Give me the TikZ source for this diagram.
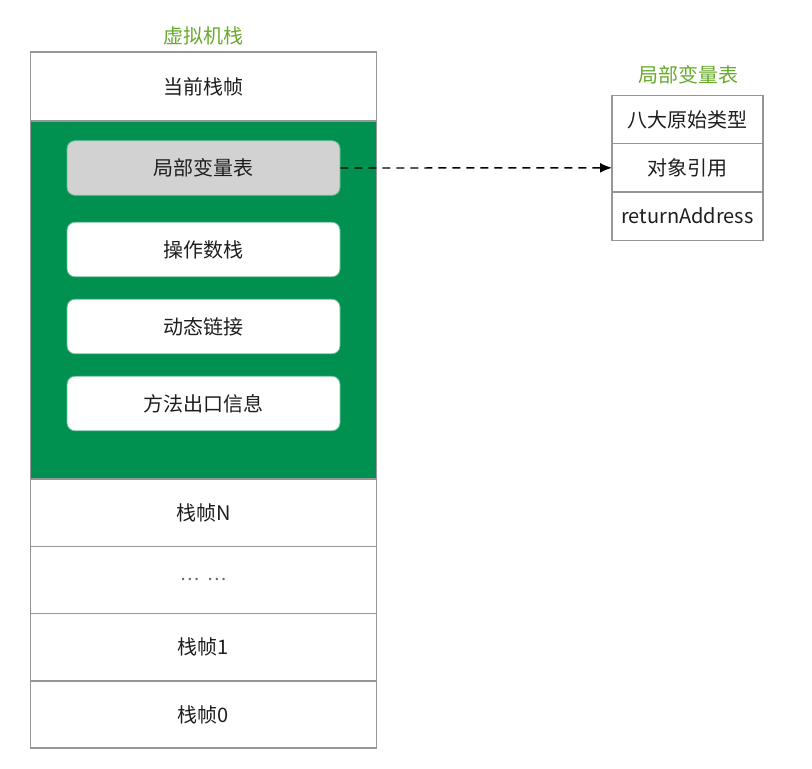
\documentclass[tikz,border=0pt]{standalone}
\usepackage{fontspec}
\setmainfont{Noto Sans CJK SC}
\usepackage{xcolor}
\usetikzlibrary{arrows.meta,positioning}
\definecolor{frmgreen}{RGB}{0,145,80}
\definecolor{ttlgreen}{RGB}{104,170,44}
\definecolor{edge}{RGB}{150,150,150}
\definecolor{txt}{RGB}{30,30,30}
\tikzset{
	cell/.style={draw=edge, line width=0.7pt, fill=white, inner sep=0pt, outer sep=0pt,
		minimum width=173pt, minimum height=33.6pt, text=txt, font=\fontsize{10}{12}\selectfont},
	grn/.style={cell, fill=frmgreen, draw=edge, minimum height=179pt},
	slot/.style={draw=frmgreen!60!white, line width=0.4pt, fill=white, rounded corners=4pt, inner sep=0pt,
		minimum width=136.5pt, minimum height=27.3pt, text=txt, font=\fontsize{10}{12}\selectfont},
	tcell/.style={cell, minimum width=75.5pt, minimum height=24.2pt},
	ttl/.style={text=ttlgreen, font=\fontsize{10}{12}\selectfont, inner sep=1pt},
}
\begin{document}
\begin{tikzpicture}[x=0.5pt, y=-0.5pt, >=latex]
				\useasboundingbox (0,0) rectangle (812,768);
				\node[ttl] at (203.5,36) (vmttl) {虚拟机栈};
				\node[cell, minimum height=34.5pt] at (203.5,86.5) (cur) {当前栈帧};
				\node[grn] at (203.5,300) (act) {};
				\node[slot, fill=gray!35] at (203.5,168) (lvt) {局部变量表};
				\node[slot] at (203.5,249.5) (ops) {操作数栈};
				\node[slot] at (203.5,326.5) (dyn) {动态链接};
				\node[slot] at (203.5,403.5) (ret) {方法出口信息};
				\node[cell] at (203.5,512.6) (fN) {栈帧N};
				\node[cell, text=gray!80!black] at (203.5,579.9) (fdots) {\fontsize{9}{10}\selectfont …\hspace{4pt}…};
				\node[cell] at (203.5,647.1) (f1) {栈帧1};
				\node[cell] at (203.5,714.4) (f0) {栈帧0};
				\node[ttl] at (688,75) (lvtttl) {局部变量表};
				\node[tcell] at (687.5,119.5) (prim) {八大原始类型};
				\node[tcell] at (687.5,167.8) (oref) {对象引用};
				\node[tcell] at (687.5,216.1) (raddr) {returnAddress};
				\draw[line width=0.7pt, dash pattern=on 4pt off 3pt, -{Latex[length=6pt,width=5pt]}] (lvt.east) -- (oref.west);
			\end{tikzpicture}
\end{document}
